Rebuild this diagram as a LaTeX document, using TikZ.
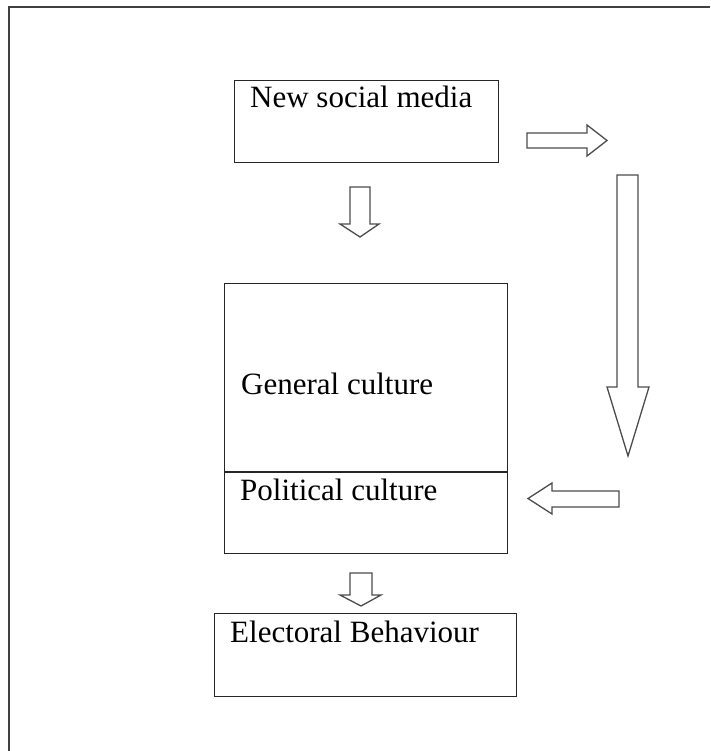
\documentclass[tikz,border=0pt]{standalone}
\usepackage{fontspec}
\setmainfont{Liberation Serif}
\begin{document}
\begin{tikzpicture}[x=1pt,y=-1pt,
  box/.style={draw=black!85,line width=1.4pt,rectangle,inner sep=0pt,anchor=north west},
  lbl/.style={inner sep=0pt,anchor=base west,font=\fontsize{31}{36}\selectfont},
  blockarrow/.style={draw=black!70,line width=1.3pt,fill=white,line join=miter}]
\useasboundingbox (0,0) rectangle (710,751);
% outer frame (open at right and bottom)
\draw[line width=2pt,draw=black!75] (710,7.5) -- (8.5,7.5) -- (8.5,751);
% boxes
\node[box,minimum width=264pt,minimum height=82pt] (nsm) at (234,80) {};
\node[box,minimum width=283pt,minimum height=270pt] (cult) at (224,283) {};
\coordinate (divl) at (224,472);
\coordinate (divr) at (507,472);
\draw[draw=black!85,line width=1.4pt] (divl) -- (divr);
\node[box,minimum width=302pt,minimum height=83pt] (eb) at (214,613) {};
% labels
\node[lbl] (tnsm) at (250,108) {New social media};
\node[lbl] (tgen) at (241,394) {General culture};
\node[lbl] (tpol) at (240,500) {Political culture};
\node[lbl] (teb) at (230,642) {Electoral Behaviour};
% block arrows
\draw[blockarrow] (527,133) -- (587,133) -- (587,125) -- (607,140.5) -- (587,156) -- (587,148) -- (527,148) -- cycle;
\draw[blockarrow] (350,187) -- (370,187) -- (370,224) -- (379,224) -- (360,237) -- (340,224) -- (350,224) -- cycle;
\draw[blockarrow] (617,175) -- (638,175) -- (638,387) -- (649,387) -- (628,456) -- (607,387) -- (617,387) -- cycle;
\draw[blockarrow] (619,491) -- (552,491) -- (552,483) -- (528,498.5) -- (552,514) -- (552,507) -- (619,507) -- cycle;
\draw[blockarrow] (350,573) -- (372,573) -- (372,595) -- (381,595) -- (361,606) -- (340,595) -- (350,595) -- cycle;
\end{tikzpicture}
\end{document}
